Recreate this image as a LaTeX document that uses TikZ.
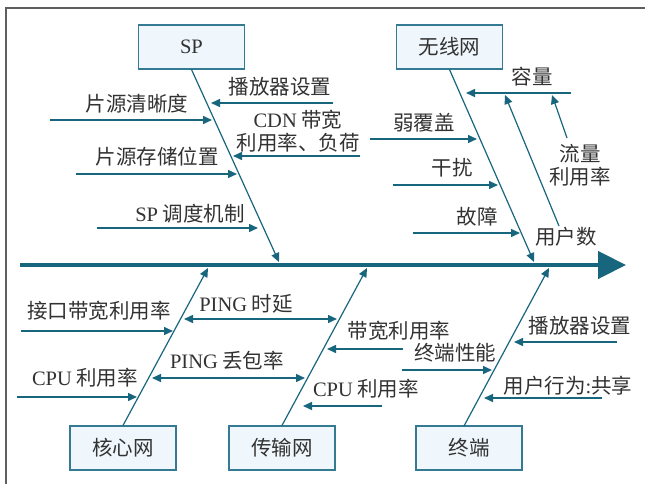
\documentclass[tikz,border=0pt]{standalone}
\usepackage{fontspec}
\setmainfont{Noto Sans CJK SC}
\newfontfamily\lat{Liberation Serif}
\usetikzlibrary{arrows.meta}
\definecolor{teal1}{RGB}{24,102,126}
\definecolor{boxline}{RGB}{52,122,146}
\definecolor{boxfill}{RGB}{239,247,252}
\definecolor{txt}{RGB}{50,50,50}
\definecolor{frame}{RGB}{95,95,95}
\begin{document}
\begin{tikzpicture}[x=1pt,y=-1pt,
  cat/.style={draw=boxline, line width=1.1pt, fill=boxfill, minimum width=106pt, minimum height=44pt, inner sep=0pt, font=\fontsize{20.5}{23}\selectfont, text=txt},
  lbl/.style={inner sep=0pt, font=\fontsize{20.5}{23}\selectfont, text=txt, align=center},
  bone/.style={draw=teal1, line width=1.2pt, -{Triangle[length=9pt,width=8pt]}},
  br/.style={draw=teal1, line width=1.5pt, -{Triangle[length=9pt,width=8pt]}},
  dbr/.style={draw=teal1, line width=1.5pt, {Triangle[length=9pt,width=8pt]}-{Triangle[length=9pt,width=8pt]}},
  spine/.style={draw=teal1, line width=4.5pt, -{Triangle[length=28pt,width=27pt]}}
]
\useasboundingbox (0,0) rectangle (645,484);
\draw[frame, line width=1.3pt] (6,484) -- (6,8) -- (645,8);

% spine
\coordinate (s0) at (20,265);
\coordinate (s1) at (626,265);
\draw[spine] (s0) -- (s1);

% category boxes
\node[cat] (sp) at (191.5,47) {\lat SP};
\node[cat] (wl) at (449.5,47) {无线网};
\node[cat] (core) at (123,448) {核心网};
\node[cat] (tr) at (282,448) {传输网};
\node[cat] (te) at (469,448) {终端};

% bones
\coordinate (spT) at (279,262);
\coordinate (wlT) at (534,262);
\coordinate (coreT) at (208,268);
\coordinate (trT) at (367,268);
\coordinate (teB) at (464,426);
\coordinate (teT) at (549,268);
\draw[bone] (sp.south) -- (spT);
\draw[bone] (wl.south) -- (wlT);
\draw[bone] (core.north) -- (coreT);
\draw[bone] (tr.north) -- (trT);
\draw[bone] (teB) -- (teT);

% SP branches
\coordinate (a1s) at (50,120);  \coordinate (a1e) at (212,120);
\coordinate (a2s) at (333,103); \coordinate (a2e) at (211,103);
\coordinate (a3s) at (360,156); \coordinate (a3e) at (233,156);
\coordinate (a4s) at (76,174);  \coordinate (a4e) at (237,174);
\coordinate (a5s) at (97,228);  \coordinate (a5e) at (258,228);
\draw[br] (a1s) -- (a1e);
\draw[br] (a2s) -- (a2e);
\draw[br] (a3s) -- (a3e);
\draw[br] (a4s) -- (a4e);
\draw[br] (a5s) -- (a5e);
\node[lbl] (t1) at (137,104) {片源清晰度};
\node[lbl] (t2) at (280,87) {播放器设置};
\node[lbl] (t3) at (298,131) {{\lat CDN} 带宽\\利用率、负荷};
\node[lbl] (t4) at (157,157) {片源存储位置};
\node[lbl] (t5) at (190,214) {{\lat SP} 调度机制};

% wireless branches
\coordinate (b1s) at (571,93);  \coordinate (b1e) at (466,93);
\coordinate (b2s) at (370,139); \coordinate (b2e) at (477,139);
\coordinate (b3s) at (393,185); \coordinate (b3e) at (498,185);
\coordinate (b4s) at (413,233); \coordinate (b4e) at (520,233);
\coordinate (b5s) at (559,226); \coordinate (b5e) at (505,95);
\coordinate (b6s) at (567,138); \coordinate (b6e) at (552,95);
\draw[br] (b1s) -- (b1e);
\draw[br] (b2s) -- (b2e);
\draw[br] (b3s) -- (b3e);
\draw[br] (b4s) -- (b4e);
\draw[bone] (b5s) -- (b5e);
\draw[bone] (b6s) -- (b6e);
\node[lbl] (u1) at (532,77) {容量};
\node[lbl] (u2) at (424,123) {弱覆盖};
\node[lbl] (u3) at (452,168) {干扰};
\node[lbl] (u4) at (477,217) {故障};
\node[lbl] (u5) at (566,237) {用户数};
\node[lbl] (u6) at (580,165) {流量\\利用率};

% core branches
\coordinate (c1s) at (21,331);  \coordinate (c1e) at (173,331);
\coordinate (c2s) at (17,397);  \coordinate (c2e) at (137,397);
\coordinate (c3s) at (184,319); \coordinate (c3e) at (337,319);
\coordinate (c4s) at (152,378); \coordinate (c4e) at (305,378);
\draw[br] (c1s) -- (c1e);
\draw[br] (c2s) -- (c2e);
\draw[dbr] (c3s) -- (c3e);
\draw[dbr] (c4s) -- (c4e);
\node[lbl] (v1) at (99,311) {接口带宽利用率};
\node[lbl] (v2) at (85,378) {{\lat CPU} 利用率};
\node[lbl] (v3) at (246,304) {{\lat PING} 时延};
\node[lbl] (v4) at (227,361) {{\lat PING} 丢包率};

% transport branches
\coordinate (d1s) at (403,349); \coordinate (d1e) at (327,349);
\coordinate (d2s) at (382,406); \coordinate (d2e) at (303,406);
\draw[br] (d1s) -- (d1e);
\draw[br] (d2s) -- (d2e);
\node[lbl] (w1) at (399,331) {带宽利用率};
\node[lbl] (w2) at (366,389) {{\lat CPU} 利用率};

% terminal branches
\coordinate (e1s) at (402,370); \coordinate (e1e) at (492,370);
\coordinate (e2s) at (617,342); \coordinate (e2e) at (514,342);
\coordinate (e3s) at (602,398); \coordinate (e3e) at (484,398);
\draw[br] (e1s) -- (e1e);
\draw[br] (e2s) -- (e2e);
\draw[br] (e3s) -- (e3e);
\node[lbl] (x1) at (455,353) {终端性能};
\node[lbl] (x2) at (580,326) {播放器设置};
\node[lbl] (x3) at (568,386) {用户行为{\lat :}共享};
\end{tikzpicture}
\end{document}
